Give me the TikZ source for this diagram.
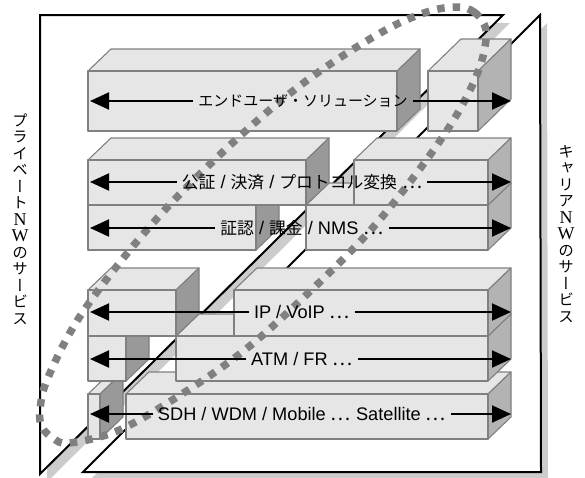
\documentclass[tikz,border=0pt]{standalone}
\usepackage{fontspec}
\setmainfont{Liberation Sans}
\newfontfamily\cjk{Noto Sans CJK JP}
\newfontfamily\cjkside[RawFeature=+vert]{Noto Sans CJK JP}
\newfontfamily\sidelatin{Liberation Serif}
\usetikzlibrary{arrows.meta}

\definecolor{facelight}{HTML}{E6E6E6}
\definecolor{facedark}{HTML}{999999}
\definecolor{facemid}{HTML}{B3B3B3}
\definecolor{edgegray}{HTML}{808080}
\definecolor{shadowgray}{HTML}{CCCCCC}

\tikzset{
    netframe/.style={line width=2pt, black},
    slabface/.style={draw=edgegray, line width=1.1pt, line join=round},
    layerlabel/.style={inner sep=5pt, font=\fontsize{18.2}{19}\selectfont},
    sidelabel/.style={align=center, inner sep=0pt, font=\cjkside\fontsize{15.5}{16.5}\selectfont},
    layerarrow/.style={line width=2pt, -{Triangle[length=19pt,width=17pt]}},
}

\newcommand{\jp}[1]{{\cjk\fontsize{15}{17}\selectfont #1}}
\newcommand{\jpbig}[1]{{\cjk\fontsize{16.8}{17}\selectfont #1}}
\newcommand{\jpdots}{{\cjk\fontsize{19}{19}\selectfont ⋯}}
\newcommand{\wtr}[1]{{\sidelatin\fontsize{18}{16.5}\selectfont #1}}

% slab: x left, x right, y top, y bottom, depth x, depth y, side colour
\newcommand{\slab}[7]{%
    \draw[slabface, fill=facelight] (#1,#3) -- ++(#5,-#6) -- ++({#2-#1},0) -- (#2,#3) -- cycle;
    \draw[slabface, fill=#7] (#2,#3) -- ++(#5,-#6) -- ++(0,{#4-#3}) -- (#2,#4) -- cycle;
    \draw[slabface, fill=facelight] (#1,#3) rectangle (#2,#4);
}

\begin{document}
\begin{tikzpicture}[x=1pt,y=-1pt]

    \clip (0,0) rectangle (585,477);

    % Shadows of the two frames
    \fill[shadowgray] (547,23) -- (548,480) -- (90,480) -- cycle;
    \fill[white] (540,15) -- (541,472) -- (83,472) -- cycle;
    \fill[shadowgray] (510,23) -- (47,482) -- (47,23) -- cycle;
    \fill[white] (503,15) -- (40,474) -- (40,15) -- cycle;

    % Frames
    \draw[netframe] (40,15) -- (503,15) -- (40,474) -- cycle;
    \draw[netframe] (540,15) -- (541,472) -- (83,472) -- cycle;

    % Bottom layer
    \slab{88}{100}{394}{439}{23}{22}{facedark}
    \slab{126}{488}{394}{439}{23}{22}{facemid}
    % ATM layer
    \slab{88}{126}{336}{381}{23}{22}{facedark}
    \slab{176}{488}{336}{381}{23}{22}{facemid}
    % IP layer
    \slab{88}{176}{290}{336}{23}{22}{facedark}
    \slab{234}{488}{290}{336}{23}{22}{facemid}
    % Authentication layer
    \slab{88}{256}{205}{250}{23}{22}{facedark}
    \slab{306}{488}{205}{250}{23}{22}{facemid}
    % Settlement layer
    \slab{88}{306}{160}{205}{23}{22}{facedark}
    \slab{354}{488}{160}{205}{23}{22}{facemid}
    % End user layer
    \slab{88}{397}{71}{131}{23}{22}{facedark}
    \slab{428}{478}{71}{131}{33}{32}{facemid}

    % Dotted ellipse
    \draw[edgegray, line width=7.5pt, dash pattern=on 7.5pt off 8.1pt]
        plot[smooth cycle, tension=0.6] coordinates {
            (458,7) (474,12) (484,24) (486,40) (478,72) (456,116) (419,170)
            (368,233) (302,299) (241,353) (174,399) (117,431) (69,443)
            (53,438) (42,427) (40,411) (47,380) (77,321) (125,256)
            (179,195) (250,127) (313,76) (382,32) (427,12)
        };

    % Tips of the arrows
    \coordinate (enduser_l) at (90,101);
    \coordinate (enduser_r) at (511,101);
    \coordinate (settle_l) at (90,182);
    \coordinate (settle_r) at (511,182);
    \coordinate (auth_l) at (90,228);
    \coordinate (auth_r) at (511,228);
    \coordinate (ip_l) at (90,312);
    \coordinate (ip_r) at (511,312);
    \coordinate (atm_l) at (90,359);
    \coordinate (atm_r) at (511,359);
    \coordinate (sdh_l) at (90,414);
    \coordinate (sdh_r) at (511,414);

    % Layer labels
    \node[layerlabel] (enduser) at (303,101) {\jp{エンドユーザ・ソリューション}};
    \node[layerlabel] (settle) at (302,182) {\jpbig{公証} / \jpbig{決済} / \jpbig{プロトコル変換} \jpdots};
    \node[layerlabel] (auth) at (302,228) {\jpbig{証認} / \jpbig{課金} / NMS \jpdots};
    \node[layerlabel] (ip) at (302,312) {IP / VoIP \jpdots};
    \node[layerlabel] (atm) at (302,359) {ATM / FR \jpdots};
    \node[layerlabel] (sdh) at (302,414) {SDH / WDM / Mobile \jpdots\ Satellite \jpdots};

    % Arrows out of each label
    \draw[layerarrow] (enduser) -- (enduser_l);
    \draw[layerarrow] (enduser) -- (enduser_r);
    \draw[layerarrow] (settle) -- (settle_l);
    \draw[layerarrow] (settle) -- (settle_r);
    \draw[layerarrow] (auth) -- (auth_l);
    \draw[layerarrow] (auth) -- (auth_r);
    \draw[layerarrow] (ip) -- (ip_l);
    \draw[layerarrow] (ip) -- (ip_r);
    \draw[layerarrow] (atm) -- (atm_l);
    \draw[layerarrow] (atm) -- (atm_r);
    \draw[layerarrow] (sdh) -- (sdh_l);
    \draw[layerarrow] (sdh) -- (sdh_r);

    % Side labels
    \node[sidelabel] (private) at (20,219) {プ\\ラ\\イ\\ベ\\ー\\ト\\\wtr{N}\\\wtr{W}\\の\\サ\\ー\\ビ\\ス};
    \node[sidelabel] (carrier) at (566,234) {キ\\ャ\\リ\\ア\\\wtr{N}\\\wtr{W}\\の\\サ\\ー\\ビ\\ス};

\end{tikzpicture}
\end{document}
